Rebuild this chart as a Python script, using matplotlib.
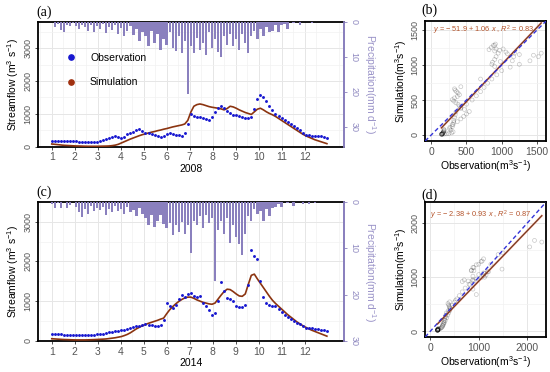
import numpy as np
import matplotlib
matplotlib.use('Agg')
import matplotlib.pyplot as plt
from matplotlib.lines import Line2D

plt.rcParams['font.family'] = ['Liberation Sans', 'DejaVu Sans']
plt.rcParams['mathtext.fontset'] = 'custom'
plt.rcParams['mathtext.rm'] = 'Liberation Sans'
plt.rcParams['mathtext.it'] = 'Liberation Sans:italic'

# ---- data (4-day steps, day 1 .. day 365) ----
days = np.arange(1, 366, 4)

obs_2008 = [180, 185, 180, 175, 175, 170, 165, 165,
            160, 155, 150, 150, 145, 145, 150, 155,
            165, 190, 220, 250, 290, 310, 280, 265,
            300, 370, 420, 460, 500, 540, 470, 420,
            400, 380, 350, 320, 300, 330, 370, 400,
            380, 360, 340, 330, 420, 700, 980, 920,
            900, 910, 880, 850, 820, 900, 1060, 1180,
            1250, 1170, 1080, 1020, 970, 950, 920, 900,
            870, 860, 900, 1150, 1450, 1560, 1520, 1400,
            1250, 1120, 1000, 930, 860, 800, 750, 700,
            640, 580, 500, 420, 350, 340, 330, 320,
            320, 310, 300, 260]
sim_2008 = [80, 70, 60, 50, 40, 35, 30, 25,
            20, 18, 15, 12, 10, 10, 10, 10,
            12, 14, 16, 20, 30, 45, 70, 110,
            150, 190, 230, 265, 300, 335, 365, 390,
            415, 440, 460, 485, 505, 530, 550, 575,
            600, 620, 640, 660, 690, 800, 1050, 1230,
            1280, 1300, 1280, 1250, 1220, 1200, 1185, 1170,
            1150, 1120, 1160, 1230, 1210, 1170, 1120, 1080,
            1040, 1010, 980, 1060, 1140, 1170, 1120, 1060,
            1010, 970, 920, 860, 800, 740, 680, 620,
            560, 500, 440, 380, 330, 290, 250, 210,
            180, 150, 120, 90]
prcp_2008 = [0, 1.5, 0.5, 2.3, 2.8, 1.0, 1.3, 0.4,
             1.2, 2.0, 0.8, 1.5, 2.5, 1.0, 3.0, 1.2,
             2.0, 0.6, 3.2, 1.5, 2.2, 0.8, 3.5, 1.8,
             4.0, 2.5, 1.2, 3.8, 2.0, 5.5, 3.0, 4.0,
             7.0, 2.5, 6.0, 3.5, 8.0, 5.0, 6.5, 3.0,
             7.5, 8.4, 4.0, 9.0, 5.5, 20.7, 7.0, 9.0,
             4.5, 8.0, 6.0, 9.3, 3.0, 7.5, 5.0, 8.5,
             10.0, 4.0, 6.5, 3.5, 7.0, 5.0, 8.0, 3.5,
             6.0, 9.0, 4.0, 2.5, 5.0, 2.0, 4.0, 1.5,
             3.0, 2.5, 1.0, 2.8, 1.0, 0.5, 2.0, 0,
             0.3, 0, 0.8, 0, 0, 0, 0.2, 0,
             0, 0, 0, 0]

obs_2014 = [160, 165, 160, 158, 155, 155, 152, 150,
            150, 150, 152, 150, 150, 152, 155, 158,
            165, 175, 190, 210, 225, 240, 250, 260,
            275, 290, 310, 340, 360, 380, 400, 410,
            400, 390, 380, 365, 400, 520, 950, 880,
            820, 900, 1050, 1150, 1100, 1180, 1200, 1120,
            1100, 1120, 960, 880, 780, 660, 700, 1000,
            1480, 1250, 1070, 1050, 1000, 880, 850, 845,
            900, 1400, 2300, 2150, 2050, 1500, 1100, 950,
            900, 880, 870, 800, 720, 660, 600, 550,
            500, 450, 410, 370, 330, 320, 310, 300,
            290, 280, 270, 250]
sim_2014 = [50, 45, 40, 35, 30, 28, 25, 22,
            20, 20, 20, 20, 22, 25, 28, 32,
            36, 40, 45, 55, 65, 75, 90, 105,
            130, 160, 200, 250, 300, 340, 380, 410,
            440, 465, 490, 515, 545, 570, 680, 780,
            860, 930, 990, 1040, 1080, 1100, 1100, 1070,
            1030, 1000, 970, 950, 930, 920, 950, 1050,
            1150, 1240, 1300, 1290, 1240, 1180, 1130, 1120,
            1180, 1420, 1650, 1680, 1560, 1450, 1340, 1230,
            1120, 1020, 940, 870, 800, 730, 660, 600,
            540, 480, 430, 380, 340, 300, 265, 235,
            205, 175, 145, 115]
prcp_2014 = [0.5, 1.3, 0.3, 1.2, 0, 1.3, 0.6, 0,
             1.0, 2.2, 3.3, 1.5, 2.5, 0.8, 2.0, 1.2,
             1.8, 1.0, 2.7, 1.5, 2.2, 0.9, 2.0, 1.5,
             2.6, 1.0, 2.2, 1.8, 3.0, 1.2, 2.5, 3.5,
             5.0, 2.8, 5.3, 4.0, 2.9, 4.8, 5.5, 4.5,
             7.1, 5.0, 6.5, 4.3, 6.8, 5.0, 11.0, 4.0,
             5.0, 3.0, 5.7, 2.8, 4.5, 3.5, 17.0, 6.0,
             4.0, 7.0, 3.5, 8.8, 5.0, 7.5, 9.0, 11.4,
             7.0, 3.0, 4.0, 1.5, 2.5, 2.0, 4.2, 1.5,
             3.0, 1.3, 1.0, 0.5, 1.0, 0, 0.3, 0,
             0.8, 0, 0, 0.5, 0, 0.4, 0, 0.3,
             0, 0, 0, 0]

# regression results printed on the scatter panels
fit_2008 = (-51.9, 1.06, 0.83)
fit_2014 = (-2.38, 0.93, 0.87)

months = list(range(1, 13))

# ---- styles ----
c_obs = '#1717D0'
c_sim = '#8B3410'
c_prcp = '#8A80BE'
c_grid = '#E6E6E6'
c_tick = '#555555'

fig = plt.figure(figsize=(5.5, 3.72), dpi=100)


def month_pos(d):
    return 1 + 12 * (np.asarray(d) - 1) / 365.0


def style_box(ax, right_color='black'):
    for s in ax.spines.values():
        s.set_linewidth(1.3)
        s.set_color('black')
    ax.spines['right'].set_color(right_color)
    ax.grid(True, which='major', color=c_grid, lw=0.7)
    ax.grid(True, which='minor', color='#F2F2F2', lw=0.5)
    ax.set_axisbelow(True)
    ax.tick_params(length=2, width=0.6, color='#333333', labelcolor=c_tick,
                   labelsize=7.5, pad=2)


def flow_panel(rect, obs, sim, prcp, year, ymax, pmax, legend=False):
    ax = fig.add_axes(rect)
    x = month_pos(days)
    ax.plot(x, sim, color=c_sim, lw=1.2, zorder=3)
    ax.plot(x, obs, 'o', color=c_obs, ms=2.1, mew=0, zorder=4)
    ax.set_xlim(0.4, 13.7)
    ax.set_ylim(-10, ymax)
    ax.set_xticks(months)
    ax.set_xticks(np.arange(0.5, 13.6, 1), minor=True)
    ax.set_yticks([0, 1000, 2000, 3000])
    ax.set_yticks([500, 1500, 2500, 3500], minor=True)
    ax.tick_params(which='minor', length=0)
    style_box(ax, right_color=c_prcp)
    ax.tick_params(axis='y', labelsize=6.5)
    for lab in ax.get_yticklabels():
        lab.set_rotation(90)
        lab.set_va('center')
    ax.set_xlabel(str(year), fontsize=7.5, labelpad=1)
    ax.set_ylabel(r'Streamflow (m$^{3}$ s$^{-1}$)', fontsize=7.5, labelpad=2)

    ax2 = ax.twinx()
    ax2.bar(x, prcp, width=0.1, color=c_prcp, bottom=0, zorder=1)
    ax2.set_ylim(pmax, 0)
    ax2.set_yticks([0, 10, 20, 30])
    ax2.spines['right'].set_color(c_prcp)
    ax2.spines['right'].set_linewidth(1.3)
    for s in ['left', 'top', 'bottom']:
        ax2.spines[s].set_visible(False)
    ax2.tick_params(axis='y', length=2, width=0.6, color=c_prcp,
                    labelcolor='#8F89C0', labelsize=6.5, pad=2)
    for lab in ax2.get_yticklabels():
        lab.set_rotation(270)
        lab.set_va('center')
    ax2.set_ylabel(r'Precipitation(mm d$^{-1}$)', color='#9A93C8',
                   fontsize=7.5, rotation=270, va='bottom', labelpad=3)

    if legend:
        handles = [Line2D([], [], ls='', marker='o', ms=3.8, color=c_obs),
                   Line2D([], [], ls='', marker='o', ms=3.8, color='#A0300F')]
        ax.legend(handles, ['Observation', 'Simulation'], loc='center left',
                  bbox_to_anchor=(0.075, 0.615), frameon=False, fontsize=7.5,
                  handlelength=1, handletextpad=1.3, labelspacing=1.4,
                  borderpad=0)
    return ax


def scatter_panel(rect, obs, sim, fit, lim, ticks, text_xy):
    ax = fig.add_axes(rect)
    obs = np.asarray(obs, float)
    sim = np.asarray(sim, float)
    ax.scatter(obs, sim, s=8, facecolors='none', edgecolors='black',
               linewidths=0.5, alpha=0.22, zorder=2)
    a, b, r2 = fit
    xs = np.array([obs.min(), obs.max()])
    ax.plot(xs, a + b * xs, color='#E8503A', lw=1.4, alpha=0.6, zorder=3)
    ax.plot(xs, a + b * xs, color='#6B3A1E', lw=0.8, zorder=4)
    ax.axline((0, 0), slope=1, color='#3434D8', lw=1.0, ls=(0, (3, 2)),
              zorder=5)
    ax.set_xlim(lim)
    ax.set_ylim(lim)
    ax.set_xticks(ticks)
    ax.set_yticks(ticks)
    step = ticks[1] - ticks[0]
    ax.set_xticks(np.arange(ticks[0] + step / 2, lim[1], step), minor=True)
    ax.set_yticks(np.arange(ticks[0] + step / 2, lim[1], step), minor=True)
    ax.tick_params(which='minor', length=0)
    style_box(ax)
    ax.tick_params(axis='y', labelsize=6.5)
    for lab in ax.get_yticklabels():
        lab.set_rotation(90)
        lab.set_va('center')
    ax.set_xlabel(r'Observation(m$^{3}$s$^{-1}$)', fontsize=7.5, labelpad=1)
    ax.set_ylabel(r'Simulation(m$^{3}$s$^{-1}$)', fontsize=7.5, labelpad=1)
    sign = '\u2212' if a < 0 else '+'
    ax.text(text_xy[0], text_xy[1],
            r'$y$ = %s %g + %.2f $x$ , $R^2$ = %.2f' % (sign, abs(a), b, r2),
            transform=ax.transAxes, ha='center', va='center', fontsize=5.3,
            color='#B4532A', zorder=6)
    return ax


flow_panel([0.069, 0.605, 0.556, 0.336], obs_2008, sim_2008, prcp_2008,
           2008, 3800, 35.7, legend=True)
flow_panel([0.069, 0.083, 0.556, 0.374], obs_2014, sim_2014, prcp_2014,
           2014, 3100, 30)
scatter_panel([0.773, 0.621, 0.220, 0.3226], obs_2008, sim_2008, fit_2008,
              (-86, 1630), [0, 500, 1000, 1500], (0.48, 0.925))
scatter_panel([0.773, 0.094, 0.220, 0.363], obs_2014, sim_2014, fit_2014,
              (-105, 2390), [0, 1000, 2000], (0.46, 0.90))

for lbl, xy in [('(a)', (0.067, 0.968)), ('(b)', (0.767, 0.972)),
                ('(c)', (0.067, 0.484)), ('(d)', (0.767, 0.476))]:
    fig.text(xy[0], xy[1], lbl, family='Liberation Serif', fontsize=10,
             va='center', ha='left')

fig.savefig('out.png', dpi=100)
